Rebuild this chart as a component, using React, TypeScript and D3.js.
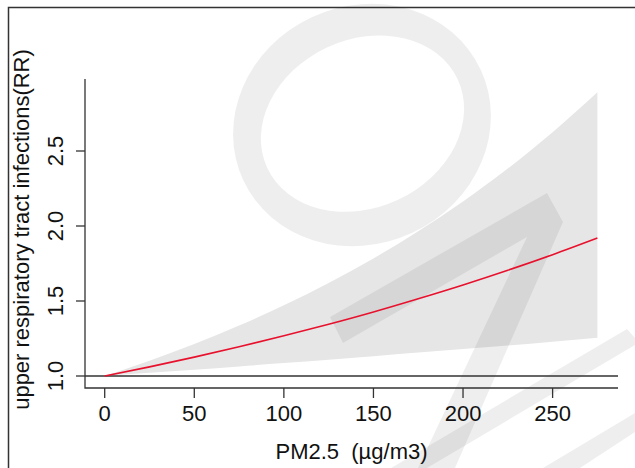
import React from "react"
import * as d3 from "d3"

// PM2.5 concentration (µg/m3) and relative risk
const pm = [0, 25, 50, 75, 100, 125, 150, 175, 200, 225, 250, 275]
const rr = [1.0, 1.061, 1.126, 1.195, 1.268, 1.345, 1.427, 1.515, 1.607, 1.705, 1.809, 1.92]
const lower = [1.0, 1.021, 1.042, 1.064, 1.086, 1.109, 1.132, 1.156, 1.18, 1.204, 1.229, 1.255]
const upper = [1.0, 1.101, 1.213, 1.336, 1.471, 1.62, 1.784, 1.965, 2.164, 2.383, 2.625, 2.891]

const xTicks = [0, 50, 100, 150, 200, 250]
const yTicks = [1.0, 1.5, 2.0, 2.5]
const yTickLabels = ["1.0", "1.5", "2.0", "2.5"]

const xTitle = "PM2.5  (\u00b5g/m3)"
const yTitle = "upper respiratory tract infections(RR)"

const W = 635
const H = 468
const plot = { left: 85, right: 618, top: 79, bottom: 388 }
const font = "'Liberation Sans', Arial, sans-serif"
const axisColor = "#333"

const App = () => {
  const x = d3.scaleLinear().domain([-11, 286.5]).range([plot.left, plot.right])
  const y = d3.scaleLinear().domain([0.92, 2.98]).range([plot.bottom, plot.top])

  const rows = pm.map((v, i) => ({ pm: v, rr: rr[i], lo: lower[i], hi: upper[i] }))

  const band = d3.area<any>()
    .x(d => x(d.pm))
    .y0(d => y(d.lo))
    .y1(d => y(d.hi))
    .curve(d3.curveMonotoneX)

  const line = d3.line<any>()
    .x(d => x(d.pm))
    .y(d => y(d.rr))
    .curve(d3.curveMonotoneX)

  const yMid = (plot.top + plot.bottom) / 2
  const xMid = (plot.left + plot.right) / 2

  return (
    <div style={{ position: "fixed", left: 0, top: 0 }}>
      <svg width={W} height={H} style={{ display: "block", background: "#fff" }}>
        {/* frame of the cropped figure */}
        <path d={`M8.5,${H} V7.5 H${W}`} fill="none" stroke={axisColor} strokeWidth={1.5} />

        {/* confidence band */}
        <path d={band(rows) || ""} fill="#e6e6e6" />

        {/* watermark */}
        <g fill="#000" fillOpacity={0.065}>
          <path
            fillRule="evenodd"
            d={
              "M231,125 a131,119 0 1,0 262,0 a131,119 0 1,0 -262,0 Z " +
              "M258,124 a105,84 0 1,1 210,0 a105,84 0 1,1 -210,0 Z"
            }
            transform="rotate(-25 362 125)"
          />
          <path d="M330,317 L547,193 L563,222 L455,468 L418,468 L527,237 L343,343 Z" />
          <path d="M627,329 L635,338 L635,345 L427,468 L391,468 Z" />
          <path d="M635,413 L635,432 L580,468 L543,468 Z" />
        </g>

        {/* reference line RR = 1 */}
        <line x1={plot.left} x2={plot.right} y1={y(1)} y2={y(1)} stroke={axisColor} strokeWidth={1.3} />

        {/* fitted curve */}
        <path d={line(rows) || ""} fill="none" stroke="#e8112d" strokeWidth={1.6} />

        {/* axes */}
        <path
          d={`M${plot.left},${plot.top} V${plot.bottom} H${plot.right}`}
          fill="none"
          stroke={axisColor}
          strokeWidth={1.3}
        />

        {xTicks.map(t => (
          <g key={t}>
            <line x1={x(t)} x2={x(t)} y1={plot.bottom} y2={plot.bottom + 10} stroke={axisColor} strokeWidth={1.3} />
            <text x={x(t)} y={421} textAnchor="middle" fontFamily={font} fontSize={22} fill="#111">
              {t}
            </text>
          </g>
        ))}

        {yTicks.map((t, i) => (
          <g key={t}>
            <line x1={plot.left - 9} x2={plot.left} y1={y(t)} y2={y(t)} stroke={axisColor} strokeWidth={1.3} />
            <text
              transform={`translate(63,${y(t)}) rotate(-90)`}
              textAnchor="middle"
              fontFamily={font}
              fontSize={22}
              fill="#111"
            >
              {yTickLabels[i]}
            </text>
          </g>
        ))}

        <text
          x={xMid}
          y={459}
          textAnchor="middle"
          fontFamily={font}
          fontSize={22}
          fill="#111"
          style={{ whiteSpace: "pre" }}
        >
          {xTitle}
        </text>

        <text
          transform={`translate(29,${yMid - 4}) rotate(-90)`}
          textAnchor="middle"
          fontFamily={font}
          fontSize={22}
          fill="#111"
        >
          {yTitle}
        </text>
      </svg>
    </div>
  )
}

export default App
